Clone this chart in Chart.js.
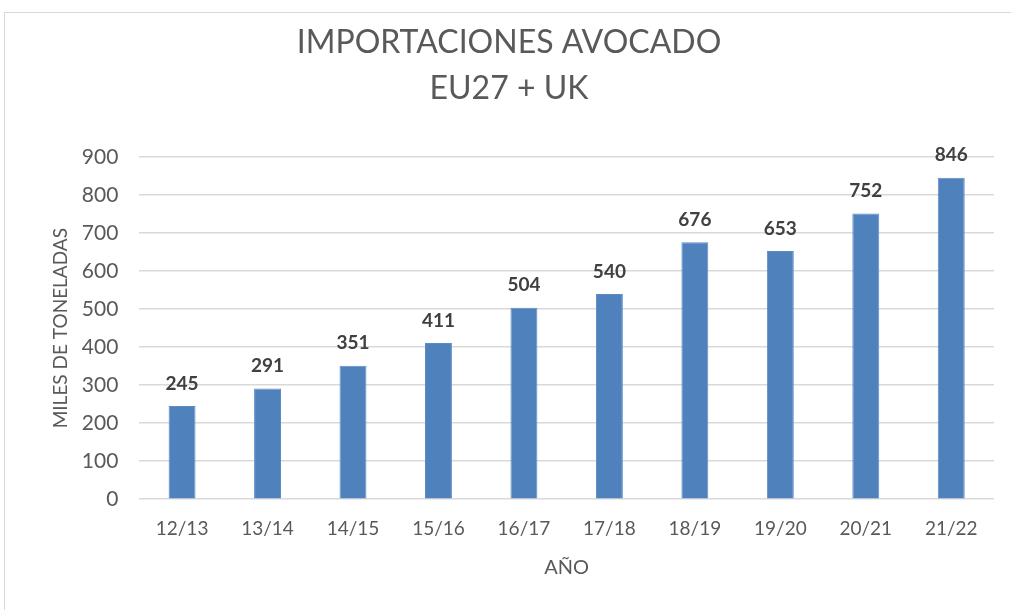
<!DOCTYPE html>
<html>
<head>
<meta charset="utf-8">
<script src="https://cdn.jsdelivr.net/npm/chart.js@4"></script>
<style>
  html, body { margin: 0; padding: 0; background: #fff; }
  #frame { position: absolute; left: 4px; top: 12px; width: 1010px; height: 600px; border: 1px solid #d9d9d9; box-sizing: border-box; }
  #wrap { position: absolute; left: 0; top: 0; width: 1011px; height: 610px; }
</style>
</head>
<body>
<div id="frame"></div>
<div id="wrap"><canvas id="myChart" width="1011" height="610"></canvas></div>
<script>
const labels = ["12/13", "13/14", "14/15", "15/16", "16/17", "17/18", "18/19", "19/20", "20/21", "21/22"];
const imports = [245, 291, 351, 411, 504, 540, 676, 653, 752, 846];
const titleLines = ["IMPORTACIONES AVOCADO", "EU27 + UK"];

const FONT = "Lato, 'Open Sans', sans-serif";

// draws the bold value over every bar
const valueLabels = {
  id: "valueLabels",
  afterDatasetsDraw(chart) {
    const ctx = chart.ctx;
    const meta = chart.getDatasetMeta(0);
    ctx.save();
    ctx.font = "bold 19px " + FONT;
    ctx.fillStyle = "#404040";
    ctx.textAlign = "center";
    ctx.textBaseline = "bottom";
    meta.data.forEach((bar, i) => {
      ctx.fillText(imports[i], bar.x, bar.y - 13);
    });
    ctx.restore();
  }
};

const config = {
  type: "bar",
  data: {
    labels: labels,
    datasets: [
      {
        data: imports,
        backgroundColor: "#4f81bd",
        borderColor: "#5b8cc6",
        borderWidth: 1,
        barPercentage: 0.63,
        categoryPercentage: 0.5,
      },
    ],
  },
  options: {
    responsive: false,
    animation: false,
    layout: { padding: { left: 24, right: 17, top: 0, bottom: 26 } },
    plugins: {
      legend: { display: false },
      tooltip: { enabled: false },
      title: {
        display: true,
        text: titleLines,
        color: "#595959",
        font: { family: FONT, size: 32, weight: "normal", lineHeight: 1.44 },
        padding: { top: 20, bottom: 45 },
      },
    },
    scales: {
      x: {
        grid: { display: false },
        border: { display: false },
        ticks: { color: "#595959", font: { family: FONT, size: 19 }, padding: 10 },
        title: {
          display: true,
          text: "AÑO",
          color: "#595959",
          font: { family: FONT, size: 20 },
          padding: { top: 6 },
        },
      },
      y: {
        min: 0,
        max: 900,
        ticks: { stepSize: 100, color: "#595959", font: { family: FONT, size: 21 }, padding: 21 },
        grid: { color: "#d9d9d9", lineWidth: 1.5, drawTicks: false },
        border: { display: false },
        title: {
          display: true,
          text: "MILES DE TONELADAS",
          color: "#595959",
          font: { family: FONT, size: 19 },
          padding: { top: 25, bottom: -11 },
        },
      },
    },
  },
  plugins: [valueLabels],
};

new Chart(document.getElementById("myChart").getContext("2d"), config);
</script>
</body>
</html>
